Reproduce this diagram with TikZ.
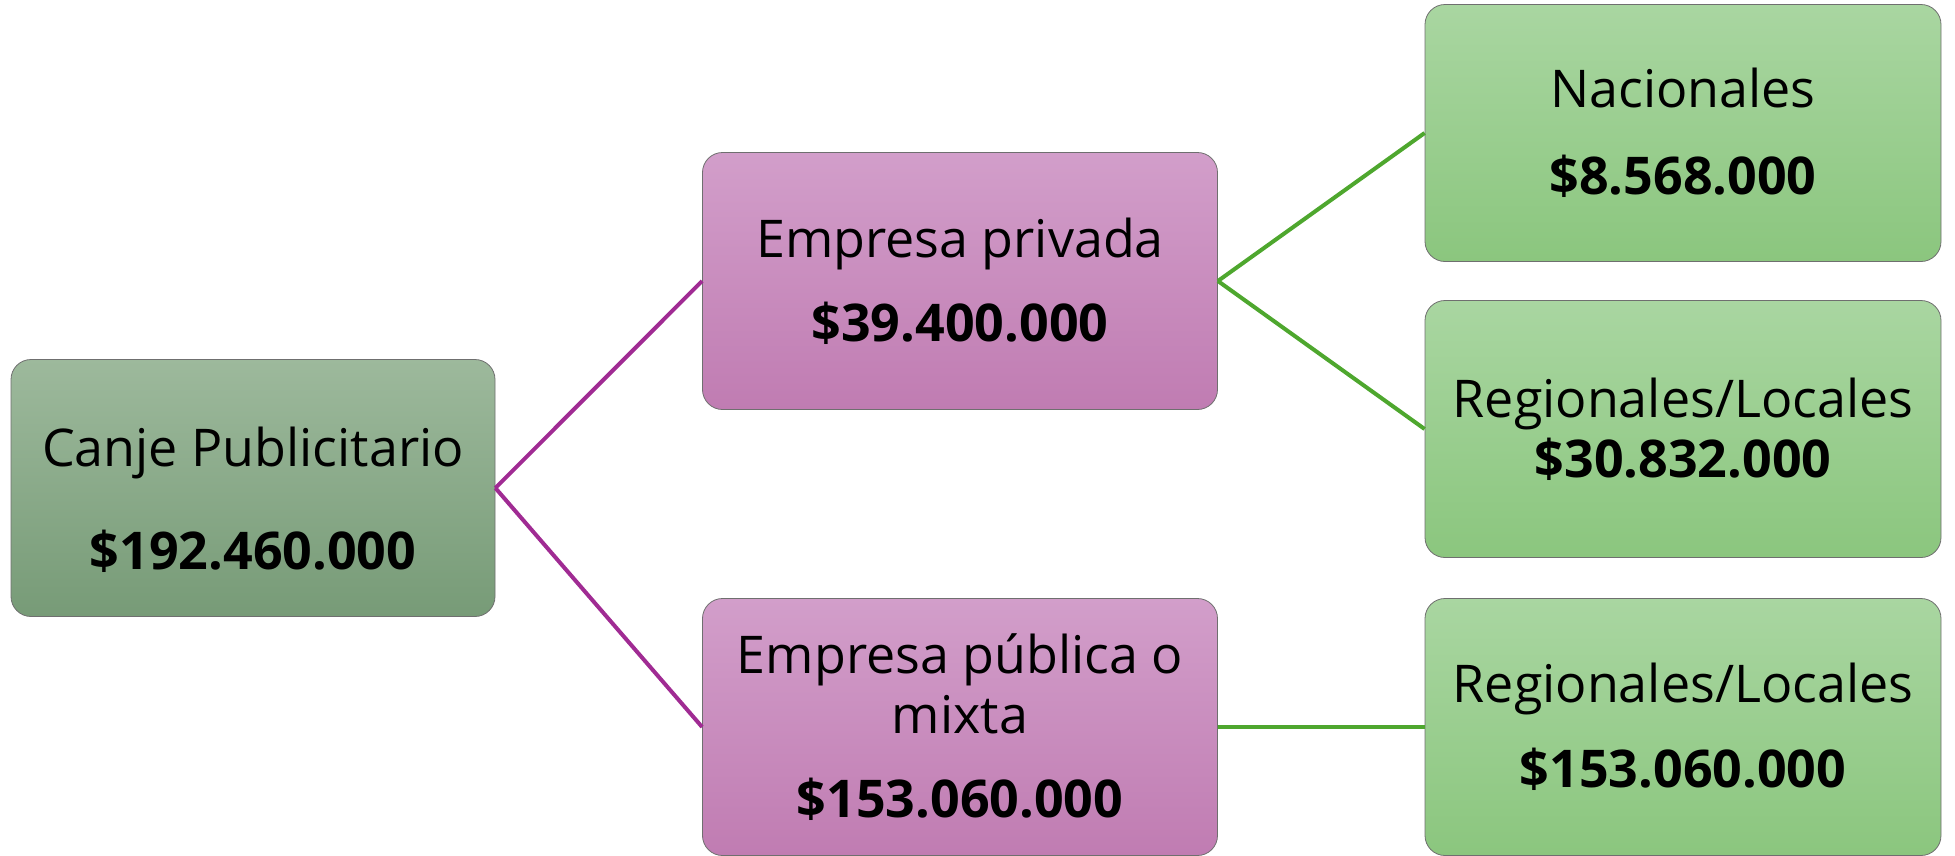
\documentclass[tikz,border=0pt]{standalone}
\usepackage{fontspec}
\setmainfont{Open Sans}
\usepackage{xcolor}
\usepackage{tikz}
\usetikzlibrary{calc}
\definecolor{rootTop}{HTML}{9DB99C}
\definecolor{rootBot}{HTML}{779B77}
\definecolor{pinkTop}{HTML}{D29ECA}
\definecolor{pinkBot}{HTML}{C07CB2}
\definecolor{leafTop}{HTML}{A9D6A1}
\definecolor{leafBot}{HTML}{8BC67E}
\definecolor{purpleEdge}{HTML}{A02B93}
\definecolor{greenEdge}{HTML}{4EA72E}
\definecolor{boxLine}{HTML}{6F6F6F}
\tikzset{
    box/.style={shape=rectangle,rounded corners=20pt,draw=boxLine,line width=0.8pt,
        minimum height=257pt,inner sep=0pt,align=center,
        font=\fontsize{52}{60}\selectfont},
    root node/.style={box,minimum width=484pt,top color=rootTop,bottom color=rootBot},
    pink node/.style={box,minimum width=515pt,top color=pinkTop,bottom color=pinkBot},
    leaf node/.style={box,minimum width=516pt,top color=leafTop,bottom color=leafBot},
    root text/.style={align=center,inner sep=0pt,font=\fontsize{52}{60}\selectfont},
    purple edge/.style={draw=purpleEdge,line width=4pt},
    green edge/.style={draw=greenEdge,line width=4pt}
}
\begin{document}
\begin{tikzpicture}[x=1pt,y=-1pt]
    \useasboundingbox (0,0) rectangle (1955,855);
    \node(0)[root node,label={[root text,yshift=-12pt]center:Canje Publicitario\\[43pt]\textbf{\$192.460.000}}] at (253,488) {};
    \node(1)[pink node] at (960,281) {Empresa privada\\[24pt]\textbf{\$39.400.000}};
    \node(2)[pink node] at (960,727) {Empresa pública o\\mixta\\[24pt]\textbf{\$153.060.000}};
    \node(1-1)[leaf node] at (1683,133) {Nacionales\\[27pt]\textbf{\$8.568.000}};
    \node(1-2)[leaf node] at (1683,429) {Regionales/Locales\\\textbf{\$30.832.000}};
    \node(2-1)[leaf node] at (1683,727) {Regionales/Locales\\[25pt]\textbf{\$153.060.000}};
    \draw[purple edge](0.east)--(1.west);
    \draw[purple edge](0.east)--(2.west);
    \draw[green edge](1.east)--(1-1.west);
    \draw[green edge](1.east)--(1-2.west);
    \draw[green edge](2.east)--(2-1.west);
\end{tikzpicture}
\end{document}
